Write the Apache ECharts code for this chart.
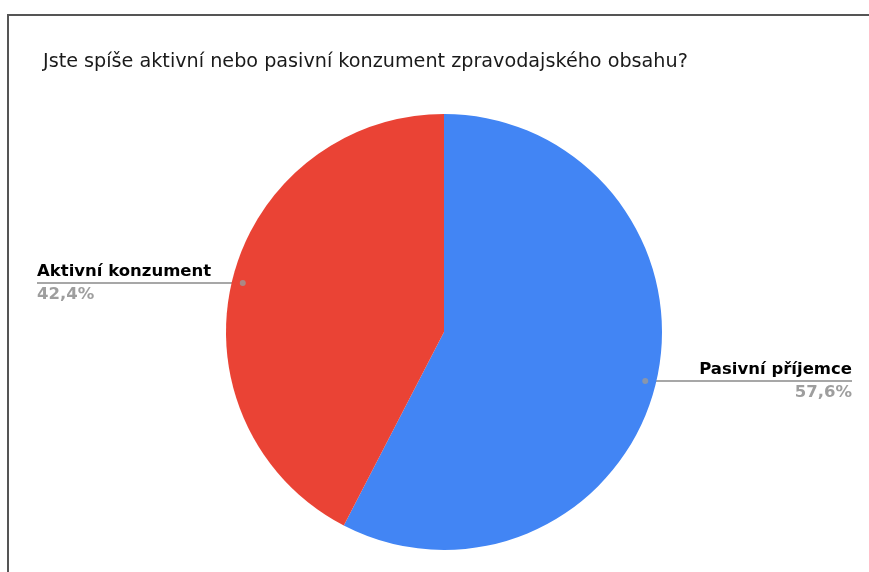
<!DOCTYPE html>
<html>
<head>
<meta charset="utf-8">
<script src="https://cdn.jsdelivr.net/npm/echarts@6/dist/echarts.min.js"></script>
<style>
  html, body { margin: 0; padding: 0; background: #fff; }
  #chart { width: 869px; height: 572px; }
</style>
</head>
<body>
<div id="chart"></div>
<script>
// Survey answers and their shares (percent)
const categories = ['Pasivní příjemce', 'Aktivní konzument'];
const shares = [57.6, 42.4];
const colors = ['#4285F4', '#EA4335'];
const titleText = 'Jste spíše aktivní nebo pasivní konzument zpravodajského obsahu?';

const FONT = '"DejaVu Sans", Verdana, sans-serif';
const CX = 444, CY = 332, R = 218;
const DOT_R = 0.95;            // where the leader dots sit, as a fraction of the radius
const LEFT_EDGE = 37, RIGHT_EDGE = 852;

// Mid-angle of each slice on a 0..100 scale (clockwise from 12 o'clock)
const total = shares.reduce((a, b) => a + b, 0);
let acc = 0;
const midShares = shares.map(v => { const m = acc + v / 2; acc += v; return m / total * 100; });

const fmtPct = p => p.toFixed(1).replace('.', ',') + '%';

const chart = echarts.init(document.getElementById('chart'), null, { renderer: 'canvas' });

chart.setOption({
  backgroundColor: '#fff',
  animation: false,
  title: {
    text: titleText,
    left: 38, top: 48,
    textStyle: { fontFamily: FONT, fontSize: 19.2, fontWeight: 'normal', color: '#1a1a1a' }
  },
  graphic: [
    { type: 'line', silent: true, shape: { x1: 8, y1: 15, x2: 869, y2: 15 }, style: { stroke: '#555', lineWidth: 2 } },
    { type: 'line', silent: true, shape: { x1: 8, y1: 14, x2: 8, y2: 572 }, style: { stroke: '#555', lineWidth: 2 } }
  ],
  polar: { center: [CX, CY], radius: R },
  angleAxis: { type: 'value', min: 0, max: 100, startAngle: 90, clockwise: true, show: false },
  radiusAxis: { type: 'value', min: 0, max: 1, show: false },
  series: [
    {
      type: 'pie',
      center: [CX, CY],
      radius: R,
      startAngle: 90,
      clockwise: true,
      bleedMargin: 0,
      z: 2,
      data: categories.map((c, i) => ({ name: c, value: shares[i], itemStyle: { color: colors[i] } })),
      label: {
        show: true,
        position: 'outside',
        distanceToLabelLine: 0,
        overflow: 'none',
        width: 240,
        formatter: p => '{n|' + p.name + '}\n{p|' + fmtPct(p.percent) + '}',
        rich: {
          n: { fontFamily: FONT, fontSize: 16.5, fontWeight: 'bold', color: '#000', lineHeight: 20, padding: [0, 0, 4, 0] },
          p: { fontFamily: FONT, fontSize: 16.5, fontWeight: 'bold', color: '#9e9e9e', lineHeight: 20, padding: [2, 0, 0, 0] }
        }
      },
      labelLine: { show: true, length: 1, length2: 1, lineStyle: { color: '#8a8a8a', width: 1.5 } },
      labelLayout: function (params) {
        const pts = params.labelLinePoints;
        const p0 = pts ? pts[0] : [CX, CY];
        const dx = p0[0] - CX, dy = p0[1] - CY;
        const len = Math.sqrt(dx * dx + dy * dy) || 1;
        const sx = CX + dx / len * R * DOT_R;
        const sy = CY + dy / len * R * DOT_R;
        const left = sx < CX;
        const ex = left ? LEFT_EDGE : RIGHT_EDGE;
        return {
          x: ex,
          y: sy + 1,
          align: left ? 'left' : 'right',
          verticalAlign: 'middle',
          labelLinePoints: [[sx, sy], [ex, sy], [ex, sy]]
        };
      }
    },
    {
      type: 'scatter',
      coordinateSystem: 'polar',
      symbol: 'circle',
      symbolSize: 6,
      z: 5,
      silent: true,
      itemStyle: { color: '#9a9a9a' },
      data: midShares.map(m => [DOT_R, m])
    }
  ]
});
</script>
</body>
</html>
